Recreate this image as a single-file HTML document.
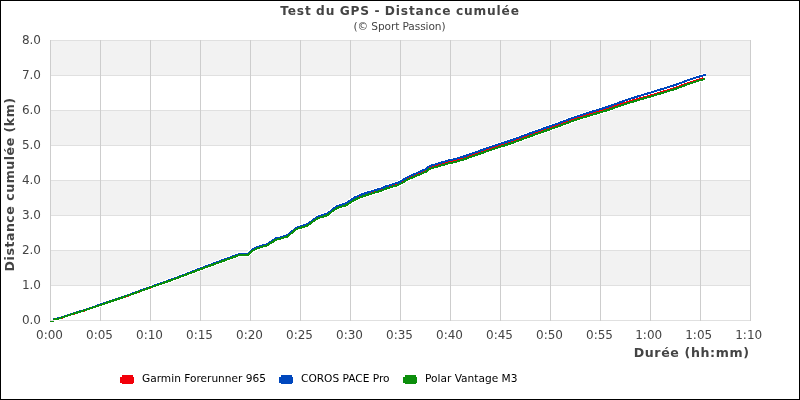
<!DOCTYPE html>
<html><head><meta charset="utf-8"><style>
html,body{margin:0;padding:0;background:#fff;}
#c{position:relative;width:800px;height:400px;overflow:hidden;}
svg{display:block;}
text{font-family:"DejaVu Sans","Liberation Sans",sans-serif;}
</style></head><body><div id="c">
<svg width="800" height="400" viewBox="0 0 800 400">
<rect x="0" y="0" width="800" height="400" fill="#fff"/>
<rect x="50" y="40" width="700" height="35" fill="#f2f2f2"/><rect x="50" y="110" width="700" height="35" fill="#f2f2f2"/><rect x="50" y="180" width="700" height="35" fill="#f2f2f2"/><rect x="50" y="250" width="700" height="35" fill="#f2f2f2"/><line x1="50" y1="40.5" x2="751" y2="40.5" stroke="#e0e0e0" stroke-width="1"/><line x1="50" y1="75.5" x2="751" y2="75.5" stroke="#e0e0e0" stroke-width="1"/><line x1="50" y1="110.5" x2="751" y2="110.5" stroke="#e0e0e0" stroke-width="1"/><line x1="50" y1="145.5" x2="751" y2="145.5" stroke="#e0e0e0" stroke-width="1"/><line x1="50" y1="180.5" x2="751" y2="180.5" stroke="#e0e0e0" stroke-width="1"/><line x1="50" y1="215.5" x2="751" y2="215.5" stroke="#e0e0e0" stroke-width="1"/><line x1="50" y1="250.5" x2="751" y2="250.5" stroke="#e0e0e0" stroke-width="1"/><line x1="50" y1="285.5" x2="751" y2="285.5" stroke="#e0e0e0" stroke-width="1"/><line x1="50" y1="320.5" x2="751" y2="320.5" stroke="#e0e0e0" stroke-width="1"/><line x1="50.5" y1="40" x2="50.5" y2="321" stroke="#cdcdcd" stroke-width="1"/><line x1="100.5" y1="40" x2="100.5" y2="321" stroke="#cdcdcd" stroke-width="1"/><line x1="150.5" y1="40" x2="150.5" y2="321" stroke="#cdcdcd" stroke-width="1"/><line x1="200.5" y1="40" x2="200.5" y2="321" stroke="#cdcdcd" stroke-width="1"/><line x1="250.5" y1="40" x2="250.5" y2="321" stroke="#cdcdcd" stroke-width="1"/><line x1="300.5" y1="40" x2="300.5" y2="321" stroke="#cdcdcd" stroke-width="1"/><line x1="350.5" y1="40" x2="350.5" y2="321" stroke="#cdcdcd" stroke-width="1"/><line x1="400.5" y1="40" x2="400.5" y2="321" stroke="#cdcdcd" stroke-width="1"/><line x1="450.5" y1="40" x2="450.5" y2="321" stroke="#cdcdcd" stroke-width="1"/><line x1="500.5" y1="40" x2="500.5" y2="321" stroke="#cdcdcd" stroke-width="1"/><line x1="550.5" y1="40" x2="550.5" y2="321" stroke="#cdcdcd" stroke-width="1"/><line x1="600.5" y1="40" x2="600.5" y2="321" stroke="#cdcdcd" stroke-width="1"/><line x1="650.5" y1="40" x2="650.5" y2="321" stroke="#cdcdcd" stroke-width="1"/><line x1="700.5" y1="40" x2="700.5" y2="321" stroke="#cdcdcd" stroke-width="1"/><line x1="750.5" y1="40" x2="750.5" y2="321" stroke="#cdcdcd" stroke-width="1"/>
<g shape-rendering="crispEdges" fill="none" stroke-width="2" stroke-linejoin="round">
<polyline points="53.50,319.65 57.00,319.05 62.00,317.65 69.00,315.15 76.00,313.05 84.00,310.65 98.00,305.85 112.00,301.05 128.00,295.65 150.00,287.65 175.00,278.60 200.00,269.10 218.00,262.50 236.00,256.00 239.30,254.70 247.80,254.70 250.40,252.10 252.50,250.50 257.00,248.30 259.70,247.20 263.00,246.30 266.00,245.60 268.30,244.45 272.70,241.60 275.90,239.40 279.00,238.80 282.20,237.90 285.30,236.70 288.00,236.10 289.80,234.30 292.00,232.45 294.00,230.90 296.25,229.00 298.50,228.10 300.75,227.38 303.90,226.42 307.00,225.46 309.30,223.91 312.00,221.76 314.70,219.71 318.00,217.54 320.70,216.59 323.90,215.62 326.60,214.67 328.80,213.32 331.00,211.48 333.30,209.63 336.00,207.73 338.70,206.33 342.00,205.40 345.80,204.39 350.00,201.68 354.00,198.98 360.00,196.27 366.00,194.16 372.00,192.35 378.00,190.54 382.80,189.03 386.00,187.52 392.00,185.71 398.00,183.90 401.00,182.39 404.00,180.57 408.00,178.25 414.00,175.51 420.00,173.07 426.00,170.33 429.00,167.91 432.00,166.70 438.00,165.10 442.00,163.89 448.00,162.19 454.00,160.89 460.00,159.17 464.00,157.97 470.00,155.85 476.00,153.67 482.00,151.57 488.00,149.46 494.00,147.39 500.00,145.47 506.00,143.58 512.00,141.55 518.00,139.40 524.00,137.16 532.00,134.19 540.00,131.34 548.00,128.53 556.00,125.68 564.00,122.73 572.00,119.77 580.00,117.02 588.00,114.51 596.00,112.16 604.00,109.80 612.00,107.17 620.00,104.40 628.00,101.88 636.00,99.51 644.00,97.24 652.00,95.05 660.00,92.60 668.00,90.10 676.00,87.60 680.00,86.13 686.50,83.62 693.00,81.40 699.50,79.35 702.80,78.42" stroke="#fff" stroke-width="4"/>
<polyline points="53.50,319.23 57.00,318.62 62.00,317.22 69.00,314.71 76.00,312.60 84.00,310.19 98.00,305.37 112.00,300.55 128.00,295.13 150.00,287.10 175.00,278.27 200.00,268.61 218.00,261.86 236.00,255.20 239.30,253.88 247.80,253.83 250.40,251.21 252.50,249.60 257.00,247.37 259.70,246.25 263.00,245.33 266.00,244.61 268.30,243.45 272.70,240.57 275.90,238.35 279.00,237.73 282.20,236.81 285.30,235.59 288.00,234.97 289.80,233.16 292.00,231.30 294.00,229.74 296.25,227.82 298.50,226.91 300.75,226.19 303.90,225.26 307.00,224.33 309.30,222.81 312.00,220.68 314.70,218.65 318.00,216.52 320.70,215.59 323.90,214.66 326.60,213.73 328.80,212.41 331.00,210.59 333.30,208.77 336.00,206.89 338.70,205.51 342.00,204.53 345.80,203.41 350.00,200.57 354.00,197.80 360.00,195.10 366.00,193.00 372.00,191.20 378.00,189.40 382.80,187.90 386.00,186.38 392.00,184.53 398.00,182.69 401.00,181.17 404.00,179.34 408.00,177.01 414.00,174.24 420.00,171.76 426.00,168.97 429.00,166.53 432.00,165.29 438.00,163.60 442.00,162.36 448.00,160.60 454.00,159.30 460.00,157.59 464.00,156.39 470.00,154.27 476.00,152.10 482.00,150.00 488.00,147.89 494.00,145.82 500.00,143.91 506.00,142.03 512.00,140.00 518.00,137.85 524.00,135.61 532.00,132.65 540.00,129.80 548.00,127.00 556.00,124.15 564.00,121.20 572.00,118.25 580.00,115.45 588.00,112.88 596.00,110.47 604.00,108.05 612.00,105.32 620.00,102.33 628.00,99.58 636.00,97.00 644.00,94.51 652.00,92.15 660.00,89.70 668.00,87.20 676.00,84.70 680.00,83.23 686.50,80.75 693.00,78.54 699.50,76.51 706.00,74.71" stroke="#fff" stroke-width="4"/>
<polyline points="53.50,319.60 57.00,319.00 62.00,317.60 69.00,315.10 76.00,313.00 84.00,310.60 98.00,305.80 112.00,301.00 128.00,295.60 150.00,287.60 175.00,278.90 200.00,269.40 218.00,262.80 236.00,256.30 239.30,255.00 247.80,255.00 250.40,252.40 252.50,250.80 257.00,248.60 259.70,247.50 263.00,246.60 266.00,245.90 268.30,244.75 272.70,241.90 275.90,239.70 279.00,239.10 282.20,238.20 285.30,237.00 288.00,236.40 289.80,234.60 292.00,232.75 294.00,231.20 296.25,229.30 298.50,228.40 300.75,227.70 303.90,226.80 307.00,225.90 309.30,224.40 312.00,222.30 314.70,220.30 318.00,218.20 320.70,217.30 323.90,216.40 326.60,215.50 328.80,214.20 331.00,212.40 333.30,210.60 336.00,208.75 338.70,207.40 342.00,206.50 345.80,205.50 350.00,202.80 354.00,200.10 360.00,197.40 366.00,195.30 372.00,193.50 378.00,191.70 382.80,190.20 386.00,188.70 392.00,186.90 398.00,185.10 401.00,183.60 404.00,181.80 408.00,179.50 414.00,176.80 420.00,174.40 426.00,171.70 429.00,169.30 432.00,168.10 438.00,166.50 442.00,165.30 448.00,163.60 454.00,162.30 460.00,160.59 464.00,159.39 470.00,157.27 476.00,155.10 482.00,153.00 488.00,150.89 494.00,148.82 500.00,146.91 506.00,145.03 512.00,143.00 518.00,140.85 524.00,138.61 532.00,135.65 540.00,132.80 548.00,130.00 556.00,127.15 564.00,124.20 572.00,121.25 580.00,118.50 588.00,116.00 596.00,113.65 604.00,111.30 612.00,108.65 620.00,105.80 628.00,103.20 636.00,100.75 644.00,98.40 652.00,96.15 660.00,93.70 668.00,91.20 676.00,88.70 680.00,87.23 686.50,84.72 693.00,82.50 699.50,80.45 705.00,78.90" stroke="#fff" stroke-width="4"/>
<polyline points="53.50,319.65 57.00,319.05 62.00,317.65 69.00,315.15 76.00,313.05 84.00,310.65 98.00,305.85 112.00,301.05 128.00,295.65 150.00,287.65 175.00,278.60 200.00,269.10 218.00,262.50 236.00,256.00 239.30,254.70 247.80,254.70 250.40,252.10 252.50,250.50 257.00,248.30 259.70,247.20 263.00,246.30 266.00,245.60 268.30,244.45 272.70,241.60 275.90,239.40 279.00,238.80 282.20,237.90 285.30,236.70 288.00,236.10 289.80,234.30 292.00,232.45 294.00,230.90 296.25,229.00 298.50,228.10 300.75,227.38 303.90,226.42 307.00,225.46 309.30,223.91 312.00,221.76 314.70,219.71 318.00,217.54 320.70,216.59 323.90,215.62 326.60,214.67 328.80,213.32 331.00,211.48 333.30,209.63 336.00,207.73 338.70,206.33 342.00,205.40 345.80,204.39 350.00,201.68 354.00,198.98 360.00,196.27 366.00,194.16 372.00,192.35 378.00,190.54 382.80,189.03 386.00,187.52 392.00,185.71 398.00,183.90 401.00,182.39 404.00,180.57 408.00,178.25 414.00,175.51 420.00,173.07 426.00,170.33 429.00,167.91 432.00,166.70 438.00,165.10 442.00,163.89 448.00,162.19 454.00,160.89 460.00,159.17 464.00,157.97 470.00,155.85 476.00,153.67 482.00,151.57 488.00,149.46 494.00,147.39 500.00,145.47 506.00,143.58 512.00,141.55 518.00,139.40 524.00,137.16 532.00,134.19 540.00,131.34 548.00,128.53 556.00,125.68 564.00,122.73 572.00,119.77 580.00,117.02 588.00,114.51 596.00,112.16 604.00,109.80 612.00,107.17 620.00,104.40 628.00,101.88 636.00,99.51 644.00,97.24 652.00,95.05 660.00,92.60 668.00,90.10 676.00,87.60 680.00,86.13 686.50,83.62 693.00,81.40 699.50,79.35 702.80,78.42" stroke="#f2000a"/>
<polyline points="53.50,319.23 57.00,318.62 62.00,317.22 69.00,314.71 76.00,312.60 84.00,310.19 98.00,305.37 112.00,300.55 128.00,295.13 150.00,287.10 175.00,278.27 200.00,268.61 218.00,261.86 236.00,255.20 239.30,253.88 247.80,253.83 250.40,251.21 252.50,249.60 257.00,247.37 259.70,246.25 263.00,245.33 266.00,244.61 268.30,243.45 272.70,240.57 275.90,238.35 279.00,237.73 282.20,236.81 285.30,235.59 288.00,234.97 289.80,233.16 292.00,231.30 294.00,229.74 296.25,227.82 298.50,226.91 300.75,226.19 303.90,225.26 307.00,224.33 309.30,222.81 312.00,220.68 314.70,218.65 318.00,216.52 320.70,215.59 323.90,214.66 326.60,213.73 328.80,212.41 331.00,210.59 333.30,208.77 336.00,206.89 338.70,205.51 342.00,204.53 345.80,203.41 350.00,200.57 354.00,197.80 360.00,195.10 366.00,193.00 372.00,191.20 378.00,189.40 382.80,187.90 386.00,186.38 392.00,184.53 398.00,182.69 401.00,181.17 404.00,179.34 408.00,177.01 414.00,174.24 420.00,171.76 426.00,168.97 429.00,166.53 432.00,165.29 438.00,163.60 442.00,162.36 448.00,160.60 454.00,159.30 460.00,157.59 464.00,156.39 470.00,154.27 476.00,152.10 482.00,150.00 488.00,147.89 494.00,145.82 500.00,143.91 506.00,142.03 512.00,140.00 518.00,137.85 524.00,135.61 532.00,132.65 540.00,129.80 548.00,127.00 556.00,124.15 564.00,121.20 572.00,118.25 580.00,115.45 588.00,112.88 596.00,110.47 604.00,108.05 612.00,105.32 620.00,102.33 628.00,99.58 636.00,97.00 644.00,94.51 652.00,92.15 660.00,89.70 668.00,87.20 676.00,84.70 680.00,83.23 686.50,80.75 693.00,78.54 699.50,76.51 706.00,74.71" stroke="#0047bd"/>
<polyline points="53.50,319.60 57.00,319.00 62.00,317.60 69.00,315.10 76.00,313.00 84.00,310.60 98.00,305.80 112.00,301.00 128.00,295.60 150.00,287.60 175.00,278.90 200.00,269.40 218.00,262.80 236.00,256.30 239.30,255.00 247.80,255.00 250.40,252.40 252.50,250.80 257.00,248.60 259.70,247.50 263.00,246.60 266.00,245.90 268.30,244.75 272.70,241.90 275.90,239.70 279.00,239.10 282.20,238.20 285.30,237.00 288.00,236.40 289.80,234.60 292.00,232.75 294.00,231.20 296.25,229.30 298.50,228.40 300.75,227.70 303.90,226.80 307.00,225.90 309.30,224.40 312.00,222.30 314.70,220.30 318.00,218.20 320.70,217.30 323.90,216.40 326.60,215.50 328.80,214.20 331.00,212.40 333.30,210.60 336.00,208.75 338.70,207.40 342.00,206.50 345.80,205.50 350.00,202.80 354.00,200.10 360.00,197.40 366.00,195.30 372.00,193.50 378.00,191.70 382.80,190.20 386.00,188.70 392.00,186.90 398.00,185.10 401.00,183.60 404.00,181.80 408.00,179.50 414.00,176.80 420.00,174.40 426.00,171.70 429.00,169.30 432.00,168.10 438.00,166.50 442.00,165.30 448.00,163.60 454.00,162.30 460.00,160.59 464.00,159.39 470.00,157.27 476.00,155.10 482.00,153.00 488.00,150.89 494.00,148.82 500.00,146.91 506.00,145.03 512.00,143.00 518.00,140.85 524.00,138.61 532.00,135.65 540.00,132.80 548.00,130.00 556.00,127.15 564.00,124.20 572.00,121.25 580.00,118.50 588.00,116.00 596.00,113.65 604.00,111.30 612.00,108.65 620.00,105.80 628.00,103.20 636.00,100.75 644.00,98.40 652.00,96.15 660.00,93.70 668.00,91.20 676.00,88.70 680.00,87.23 686.50,84.72 693.00,82.50 699.50,80.45 705.00,78.90" stroke="#0c8e0c"/>
<rect x="50" y="321" width="4" height="1" fill="#0c8e0c" stroke="none"/>
</g>
<g font-size="12" fill="#444">
<text x="41" y="323.5" text-anchor="end">0.0</text><text x="41" y="288.5" text-anchor="end">1.0</text><text x="41" y="253.5" text-anchor="end">2.0</text><text x="41" y="218.5" text-anchor="end">3.0</text><text x="41" y="183.5" text-anchor="end">4.0</text><text x="41" y="148.5" text-anchor="end">5.0</text><text x="41" y="113.5" text-anchor="end">6.0</text><text x="41" y="78.5" text-anchor="end">7.0</text><text x="41" y="43.5" text-anchor="end">8.0</text><text x="49.5" y="339" text-anchor="middle">0:00</text><text x="99.5" y="339" text-anchor="middle">0:05</text><text x="149.5" y="339" text-anchor="middle">0:10</text><text x="199.5" y="339" text-anchor="middle">0:15</text><text x="249.5" y="339" text-anchor="middle">0:20</text><text x="299.5" y="339" text-anchor="middle">0:25</text><text x="349.5" y="339" text-anchor="middle">0:30</text><text x="399.5" y="339" text-anchor="middle">0:35</text><text x="449.5" y="339" text-anchor="middle">0:40</text><text x="499.5" y="339" text-anchor="middle">0:45</text><text x="549.5" y="339" text-anchor="middle">0:50</text><text x="599.5" y="339" text-anchor="middle">0:55</text><text x="648.7" y="339" text-anchor="middle">1:00</text><text x="698.7" y="339" text-anchor="middle">1:05</text><text x="748.7" y="339" text-anchor="middle">1:10</text>
</g>
<text x="400" y="15" text-anchor="middle" font-size="12.2" letter-spacing="0.85" word-spacing="-0.6" font-weight="bold" fill="#444">Test du GPS - Distance cumulée</text>
<text x="399.5" y="30" text-anchor="middle" font-size="10.6" letter-spacing="-0.1" fill="#444">(© Sport Passion)</text>
<text x="749.6" y="357" text-anchor="end" font-size="12.6" letter-spacing="0.62" font-weight="bold" fill="#444">Durée (hh:mm)</text>
<text transform="translate(13.5,184.4) rotate(-90)" text-anchor="middle" font-size="12.6" letter-spacing="0.5" font-weight="bold" fill="#444">Distance cumulée (km)</text>
<g shape-rendering="crispEdges">
<rect x="122" y="375" width="11" height="9" fill="#f2000a"/><rect x="120" y="377" width="14" height="6" fill="#f2000a"/>
<rect x="281" y="375" width="11" height="9" fill="#0047bd"/><rect x="279" y="377" width="14" height="6" fill="#0047bd"/>
<rect x="405" y="375" width="11" height="9" fill="#0c8e0c"/><rect x="403" y="377" width="14" height="6" fill="#0c8e0c"/>
</g>
<g font-size="10.6" fill="#000">
<text x="142" y="382">Garmin Forerunner 965</text>
<text x="301" y="382">COROS PACE Pro</text>
<text x="425" y="382">Polar Vantage M3</text>
</g>
<rect x="0.5" y="0.5" width="799" height="399" fill="none" stroke="#000" stroke-width="1"/>
</svg></div></body></html>
